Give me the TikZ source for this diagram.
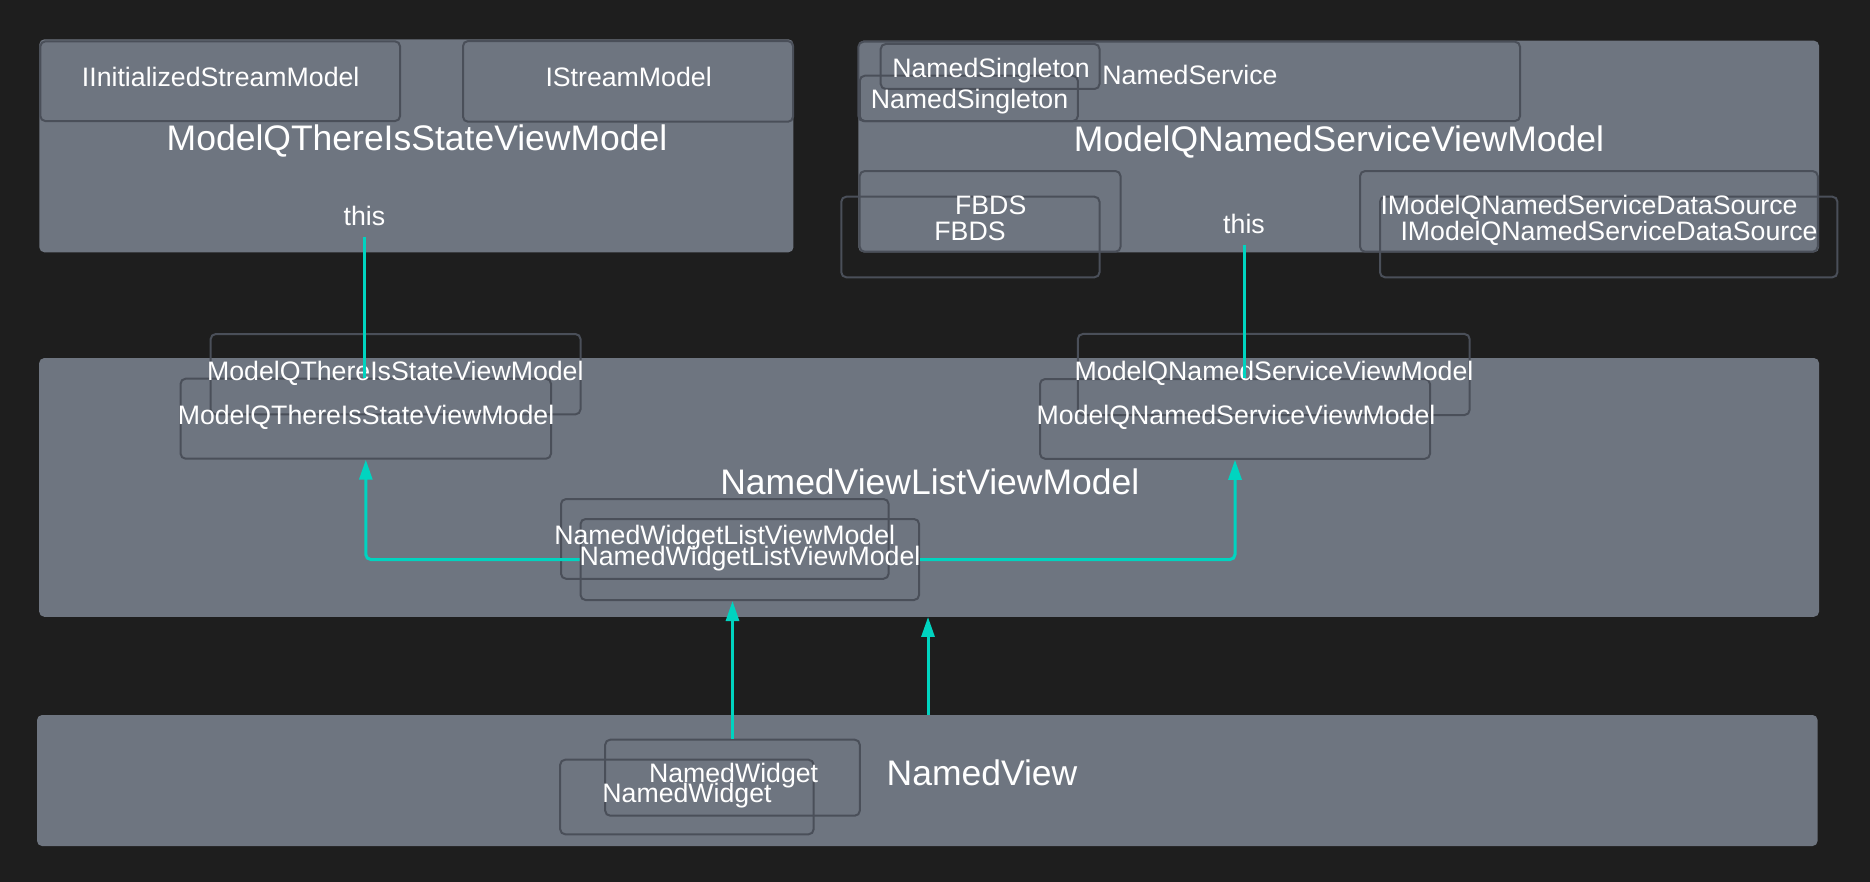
\documentclass[tikz,border=0pt]{standalone}
\usepackage{fontspec}
\setmainfont{Liberation Sans}
\usetikzlibrary{arrows.meta}
\definecolor{bgdark}{RGB}{30,30,30}
\definecolor{boxfill}{RGB}{110,117,128}
\definecolor{inedge}{RGB}{74,79,89}
\definecolor{linkteal}{RGB}{0,212,192}
\tikzset{
  bigbox/.style={fill=boxfill, draw=none, rounded corners=5pt, inner sep=0pt},
  inbox/.style={draw=inedge, line width=2pt, rounded corners=5pt, inner sep=0pt},
  smalltxt/.style={font=\fontsize{26.7}{32}\selectfont, text=white, anchor=base, inner sep=0pt},
  bigtxt/.style={font=\fontsize{35.5}{42}\selectfont, text=white, anchor=base, inner sep=0pt},
  conn/.style={draw=linkteal, line width=3pt, rounded corners=5pt},
  arr/.style={conn, -{Triangle[length=20pt,width=13pt]}}
}
\begin{document}
\begin{tikzpicture}[x=1pt,y=-1pt]
\fill[bgdark] (0,0) rectangle (1870,882);
\useasboundingbox (0,0) rectangle (1870,882);
% big containers
\node[bigbox, minimum width=754.1pt, minimum height=213pt] (A) at (416.4,145.8) {};
\node[bigbox, minimum width=960.6pt, minimum height=211.6pt] (C) at (1338.7,146.5) {};
\node[bigbox, minimum width=1779.8pt, minimum height=258.7pt] (B) at (929.1,487.4) {};
\node[bigbox, minimum width=1780.5pt, minimum height=131pt] (D) at (927.3,780.5) {};
% inner boxes
\node[inbox, minimum width=359.7pt, minimum height=79.7pt] (iism) at (220.2,81.2) {};
\node[inbox, minimum width=330pt, minimum height=80.7pt] (ism) at (628,81.4) {};
\node[inbox, minimum width=661.6pt, minimum height=79.3pt] (nsvc) at (1189.2,81.4) {};
\node[inbox, minimum width=218.8pt, minimum height=45pt] (nsing1) at (990.1,66.5) {};
\node[inbox, minimum width=218.1pt, minimum height=45.3pt] (nsing2) at (968.8,98.4) {};
\node[inbox, minimum width=260.8pt, minimum height=80.7pt] (fbds1) at (990.1,211.4) {};
\node[inbox, minimum width=258.2pt, minimum height=80.6pt] (fbds2) at (970.4,237) {};
\node[inbox, minimum width=457.7pt, minimum height=80.7pt] (ds1) at (1588.9,211.4) {};
\node[inbox, minimum width=457.4pt, minimum height=80.6pt] (ds2) at (1608.7,237) {};
\node[inbox, minimum width=369.8pt, minimum height=80.3pt] (ts1) at (395.6,374.2) {};
\node[inbox, minimum width=370.4pt, minimum height=80pt] (ts2) at (365.8,418.7) {};
\node[inbox, minimum width=327.6pt, minimum height=79.7pt] (nw1) at (724.8,538.9) {};
\node[inbox, minimum width=338.5pt, minimum height=81pt] (nw2) at (749.8,559.5) {};
\node[inbox, minimum width=391.8pt, minimum height=81pt] (ns1) at (1273.7,374.5) {};
\node[inbox, minimum width=390pt, minimum height=79.7pt] (ns2) at (1235,418.9) {};
\node[inbox, minimum width=254.6pt, minimum height=76pt] (wd1) at (732.5,777.7) {};
\node[inbox, minimum width=253.4pt, minimum height=74.6pt] (wd2) at (686.9,797) {};
% texts
\node[smalltxt] (tiism) at (220.7,86.5) {IInitializedStreamModel};
\node[smalltxt] (tism) at (628.6,86.5) {IStreamModel};
\node[bigtxt] (tA) at (417,151) {ModelQThereIsStateViewModel};
\node[smalltxt] (thisA) at (364.5,226) {this};
\node[smalltxt] (tnsing1) at (991,77.5) {NamedSingleton};
\node[smalltxt] (tnsvc) at (1190,85) {NamedService};
\node[smalltxt] (tnsing2) at (969.5,109) {NamedSingleton};
\node[bigtxt] (tC) at (1339,152) {ModelQNamedServiceViewModel};
\node[smalltxt] (tfbds1) at (990.7,215) {FBDS};
\node[smalltxt] (tfbds2) at (970,240.5) {FBDS};
\node[smalltxt] (thisC) at (1244,233.5) {this};
\node[smalltxt] (tds1) at (1589,215) {IModelQNamedServiceDataSource};
\node[smalltxt] (tds2) at (1609,240.5) {IModelQNamedServiceDataSource};
\node[smalltxt] (tts1) at (395.3,380) {ModelQThereIsStateViewModel};
\node[smalltxt] (tts2) at (366,424) {ModelQThereIsStateViewModel};
\node[bigtxt] (tB) at (929.8,494) {NamedViewListViewModel};
\node[smalltxt] (tnw1) at (724.7,544) {NamedWidgetListViewModel};
\node[smalltxt] (tnw2) at (750,565) {NamedWidgetListViewModel};
\node[smalltxt] (tns1) at (1274,380) {ModelQNamedServiceViewModel};
\node[smalltxt] (tns2) at (1236,424) {ModelQNamedServiceViewModel};
\node[smalltxt] (twd1) at (733.6,782.5) {NamedWidget};
\node[smalltxt] (twd2) at (687,802.5) {NamedWidget};
\node[bigtxt] (tD) at (982,785.5) {NamedView};
% connectors
\coordinate (thisAout) at (364.5,237);
\coordinate (thisCout) at (1244,245);
\coordinate (dtop) at (928,715);
\draw[conn] (thisAout) -- (thisAout |- ts2.north);
\draw[conn] (thisCout) -- (thisCout |- ns2.north);
\draw[arr] (nw2.west) -| (ts2.south);
\draw[arr] (nw2.east) -| (ns2.south);
\draw[arr] (wd1.north) -- (wd1.north |- nw2.south);
\draw[arr] (dtop) -- (dtop |- B.south);
\end{tikzpicture}
\end{document}
